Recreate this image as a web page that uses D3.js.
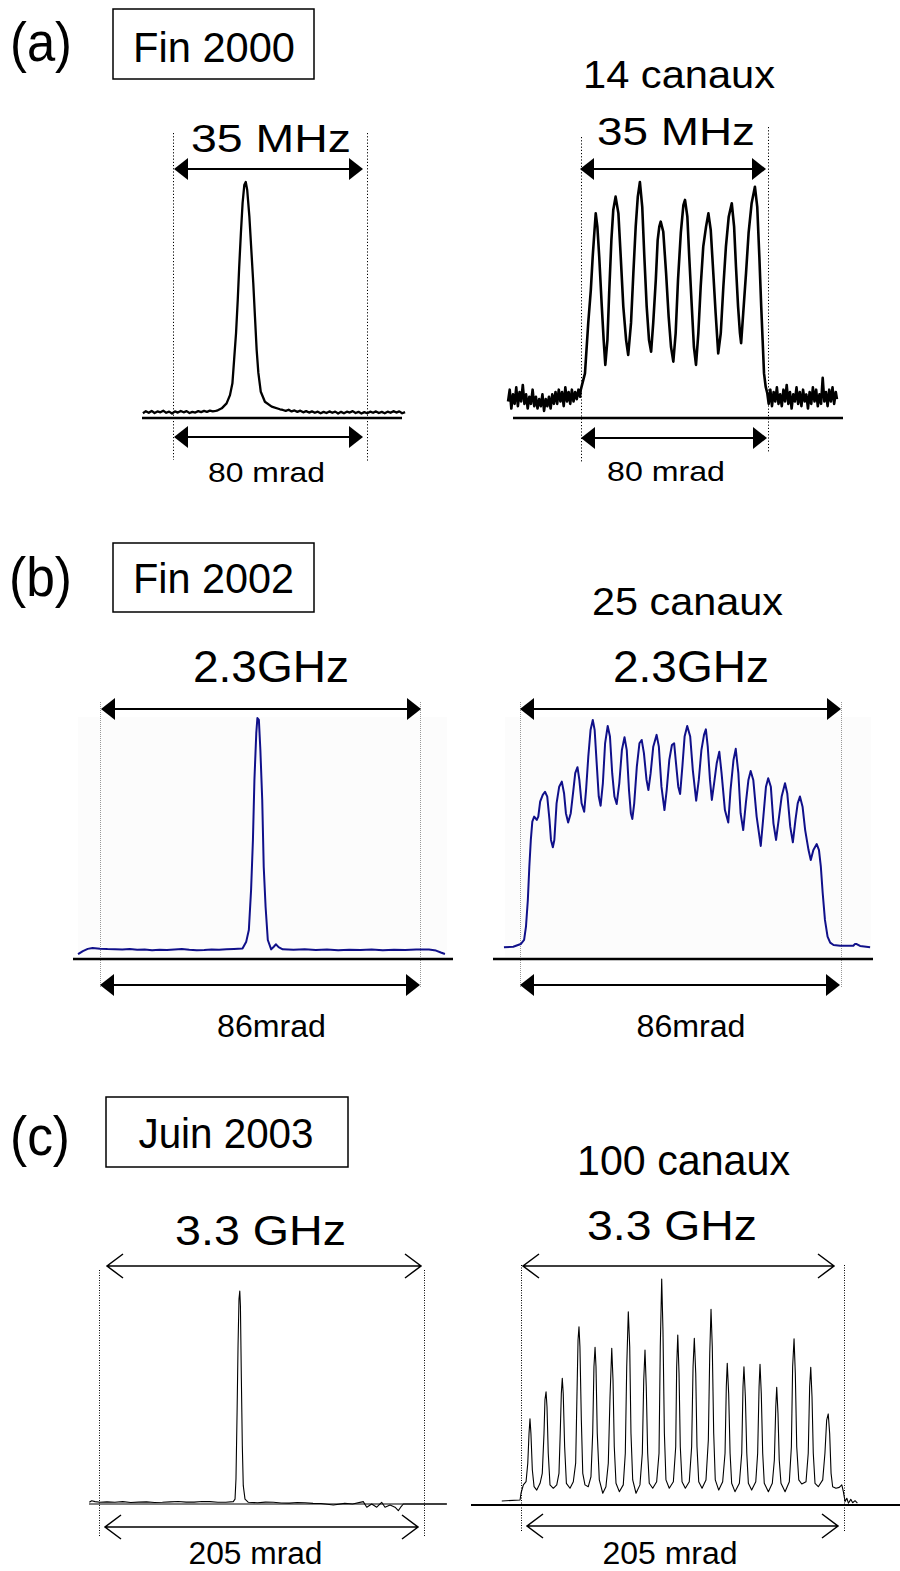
<!DOCTYPE html>
<html>
<head>
<meta charset="utf-8">
<script src="https://cdn.jsdelivr.net/npm/d3@7"></script>
<style>
  body { margin: 0; background: #fff; }
  svg { display: block; }
  text { font-family: "Liberation Sans", Arial, sans-serif; fill: #000; }
</style>
</head>
<body>
<script>
// Data: traces as [angle (mrad from left marker), intensity (% of max)]
const panelLetters = ["(a)", "(b)", "(c)"];
const panelDates = ["Fin 2000", "Fin 2002", "Juin 2003"];
const channelLabels = ["14 canaux", "25 canaux", "100 canaux"];
const bandLabels = ["35 MHz", "2.3GHz", "3.3 GHz"];
const angleLabels = ["80 mrad", "86mrad", "205 mrad"];
const angleSpans = [80, 86, 205];

const traceA1 = [[-12.4,2.0],[-11.2,2.9],[-10.0,2.2],[-8.8,3.0],[-7.6,2.1],[-6.4,2.8],[-5.2,2.4],[-4.0,3.1],[-2.8,2.2],[-1.6,2.7],[-0.4,1.9],[0.8,2.8],[2.0,2.3],[3.2,3.0],[4.4,2.4],[5.6,2.9],[6.8,2.1],[8.0,2.6],[9.2,2.3],[10.4,2.9],[11.6,2.5],[12.8,3.0],[14.0,2.6],[15.2,3.1],[16.4,2.8],[17.6,3.0],[18.1,3.1],[20.1,4.1],[22.1,6.2],[23.5,9.7],[24.5,14.7],[25.2,24.6],[26.0,36.0],[26.7,50.0],[27.3,64.1],[28.0,78.4],[28.7,91.1],[29.4,98.7],[30.0,100],[30.6,96.6],[31.5,85.3],[32.3,71.2],[33.1,57.2],[33.8,42.9],[34.5,28.8],[35.2,19.1],[36.2,11.1],[37.9,6.9],[40.7,4.8],[44.1,3.7],[45.3,3.4],[46.5,3.0],[47.7,3.5],[48.9,2.8],[50.1,3.2],[51.3,2.6],[52.5,3.1],[53.7,2.4],[54.9,2.9],[56.1,2.3],[57.3,2.8],[58.5,2.2],[59.7,2.7],[60.9,2.0],[62.1,2.6],[63.3,2.1],[64.5,2.8],[65.7,2.2],[66.9,2.7],[68.1,1.9],[69.3,2.6],[70.5,2.0],[71.7,2.7],[72.9,2.3],[74.1,2.9],[75.3,2.1],[76.5,2.6],[77.7,1.9],[78.9,2.5],[80.1,2.0],[81.3,2.7],[82.5,2.2],[83.7,2.8],[84.9,2.1],[86.1,2.6],[87.3,2.0],[88.5,2.7],[89.7,2.2],[90.9,2.9],[92.1,2.3],[93.3,2.8],[94.5,2.0],[95.7,2.5]];

const traceA2 = [[-31.2,7],[-30.5,12],[-29.8,4],[-29.1,10],[-28.4,6],[-27.7,13],[-27.0,5],[-26.3,11],[-25.6,7],[-24.9,14],[-24.2,6],[-23.5,10],[-22.8,4],[-22.1,9],[-21.4,6],[-20.7,12],[-20.0,5],[-19.3,9],[-18.6,4],[-17.9,8],[-17.2,5],[-16.5,10],[-15.8,3],[-15.1,8],[-14.4,5],[-13.7,9],[-13.0,4],[-12.3,10],[-11.6,6],[-10.9,11],[-10.2,6],[-9.5,12],[-8.8,7],[-8.1,11],[-7.4,5],[-6.7,13],[-6.0,7],[-5.3,11],[-4.6,6],[-3.9,12],[-3.2,7],[-2.5,11],[-1.8,8],[-1.1,12],[-0.4,9],
  [-0.1,11.9],[1.7,18.9],[3.1,40.3],[4.2,54.2],[5.0,68.3],[5.7,78.4],[6.3,86.7],[7.0,81.1],[7.8,68.3],[8.9,47.2],[9.7,33.0],[10.4,22.5],[11.3,33.0],[12.1,54.2],[13.0,75.4],[13.8,88.1],[14.8,93.8],[16.0,86.7],[17.0,68.3],[18.1,47.2],[19.3,33.0],[20.2,26.7],[21.4,40.3],[22.4,61.4],[23.4,81.1],[24.3,93.8],[25.2,100],[26.2,89.5],[27.1,68.3],[28.1,47.2],[29.1,33.0],[30.0,28.1],[30.9,40.3],[32.0,58.5],[32.8,75.4],[33.5,81.1],[34.1,83.2],[35.2,78.9],[36.4,61.4],[37.5,42.9],[38.5,30.2],[39.5,23.9],[40.5,36.0],[41.5,58.5],[42.7,78.4],[43.8,90.2],[44.5,92.4],[45.5,85.3],[46.3,68.3],[47.4,47.2],[48.3,30.2],[49.2,22.5],[50.2,36.0],[51.2,55.6],[52.3,72.6],[53.5,81.1],[54.5,86.7],[55.5,79.7],[56.6,61.4],[57.6,44.4],[58.7,27.4],[59.8,36.0],[60.9,55.6],[62.0,72.6],[63.2,85.3],[64.5,91.0],[65.5,81.1],[66.3,64.1],[67.2,47.2],[68.0,36.0],[68.5,31.7],[69.4,44.4],[70.6,61.4],[71.7,78.4],[73.0,91.0],[74.4,98.0],[75.4,89.5],[76.3,68.3],[77.1,47.2],[77.7,33.0],[78.3,18.9],[79.0,13.3],[79.7,10.5],
  [80.3,6],[81.0,12],[81.7,5],[82.4,11],[83.1,7],[83.8,13],[84.5,6],[85.2,10],[85.9,5],[86.6,12],[87.3,7],[88.0,14],[88.7,6],[89.4,11],[90.1,4],[90.8,10],[91.5,7],[92.2,13],[92.9,6],[93.6,11],[94.3,5],[95.0,12],[95.7,7],[96.4,10],[97.1,4],[97.8,11],[98.5,6],[99.2,13],[99.9,7],[100.6,12],[101.3,5],[102.0,10],[102.7,6],[103.4,17],[104.1,7],[104.8,11],[105.5,5],[106.2,12],[106.9,7],[107.6,13],[108.3,6],[109.0,11],[109.5,8]];

const traceB1 = [[-5.9,2.0],[-4.6,3.3],[-3.3,4.2],[-2.0,4.6],[0,4.3],[2,4.1],[4,4.0],[6,3.9],[8,4.1],[10,3.8],[12,3.9],[14,3.6],[16,3.8],[18,3.7],[20,3.9],[22,4.1],[24,3.8],[26,3.6],[28,3.7],[30,3.9],[32,3.8],[34,4.0],[36,4.2],[38.3,4.4],[39.3,7.2],[40.0,12.0],[40.6,28.6],[41.1,49.4],[41.5,74.3],[42.0,93.7],[42.3,100],[42.7,99.2],[43.1,86.7],[43.6,66.0],[44.0,38.3],[44.5,21.7],[45.1,7.9],[46.0,4.0],[46.7,5.1],[47.3,6.1],[48.0,4.9],[49.1,4.0],[52,3.8],[55,4.0],[58,3.7],[61,3.9],[64,3.6],[67,3.8],[70,3.7],[73,3.9],[76,3.6],[79,3.8],[82,3.7],[85,3.9],[88.4,3.9],[90.3,3.5],[91.6,2.7],[92.7,2.1]];

const traceB2 = [[-4.3,4.9],[-1.8,5.1],[0.2,6.2],[1.1,7.9],[1.6,13.4],[2.1,24.5],[2.5,38.3],[2.9,49.4],[3.3,57.0],[3.8,59.1],[4.5,57.7],[4.9,59.1],[5.4,65.3],[6.1,68.1],[6.7,69.4],[7.3,67.4],[7.9,57.7],[8.3,49.4],[8.8,46.4],[9.2,49.4],[9.8,64.6],[10.5,71.5],[11.2,73.6],[11.8,68.8],[12.3,60.5],[12.9,56.6],[13.6,60.5],[14.3,70.1],[14.8,77.1],[15.4,79.6],[15.9,74.3],[16.5,64.6],[17.2,61.1],[17.7,70.1],[18.3,84.0],[18.9,95.0],[19.5,99.2],[20.0,95.0],[20.6,79.8],[21.1,67.4],[21.6,63.6],[22.2,72.9],[22.8,89.5],[23.5,96.7],[24.1,92.3],[24.7,77.1],[25.3,67.4],[25.9,64.3],[26.6,72.9],[27.3,86.7],[28.0,92.0],[28.6,86.7],[29.2,70.1],[29.7,60.5],[30.1,58.1],[30.6,64.6],[31.3,79.8],[32.0,89.5],[32.6,90.9],[33.2,85.4],[33.9,74.3],[34.4,70.1],[35.0,77.1],[35.7,88.1],[36.6,93.0],[37.2,88.1],[37.9,71.5],[38.7,61.8],[39.3,70.1],[40.0,82.6],[40.7,88.8],[41.3,89.5],[41.8,81.2],[42.4,71.5],[42.9,68.5],[43.5,79.8],[44.1,92.3],[44.8,96.7],[45.6,92.3],[46.3,78.4],[47.2,65.7],[47.9,74.3],[48.6,86.7],[49.3,93.0],[49.8,95.3],[50.3,88.1],[50.9,74.3],[51.4,66.0],[52.0,72.9],[52.7,81.2],[53.4,86.0],[54.0,77.1],[54.9,61.8],[55.8,56.6],[56.4,70.1],[57.2,82.6],[57.8,87.2],[58.5,77.1],[59.1,60.5],[59.8,53.5],[60.5,64.6],[61.2,74.3],[61.8,78.0],[62.5,74.3],[63.4,59.1],[64.5,46.9],[65.2,59.1],[65.9,71.5],[66.5,75.0],[67.2,71.5],[67.9,56.3],[68.6,49.4],[69.3,57.7],[70.1,67.4],[71.0,72.9],[71.6,68.8],[72.4,54.9],[73.1,48.4],[73.8,57.7],[74.4,64.6],[75.0,67.4],[75.7,63.2],[76.4,53.5],[77.3,45.2],[77.9,41.1],[78.6,45.2],[79.5,47.7],[80.1,45.2],[80.6,38.3],[81.1,27.3],[81.7,16.2],[82.4,9.3],[83.1,6.8],[84.0,5.8],[85.8,5.5],[87.6,5.5],[89.3,5.5],[89.7,6.2],[90.2,6.2],[91.1,5.4],[93.8,4.9]];

const traceC1 = [[-6.1,0.8],[-4.6,1.5],[-2.5,1.1],[0.6,0.8],[5,1.0],[10,0.8],[15,1.1],[20,0.7],[25,0.9],[30,1.0],[35,0.7],[40,0.8],[45,1.0],[50,1.2],[55,0.9],[60,0.9],[65,1.2],[70,1.1],[75,0.8],[80,0.8],[84.7,1.1],[85.8,2.3],[86.4,11.7],[87.1,43.1],[87.7,74.3],[88.3,96.2],[88.8,100],[89.2,93.1],[89.8,58.7],[90.4,27.4],[91.0,8.6],[92.1,2.3],[94.2,0.8],[100,0.6],[105,0.9],[110,0.8],[115,0.5],[120,0.4],[125,0.7],[130,0.6],[135,0.3],[140,0.2],[147.8,-0.5],[155,0.3],[160,0.0],[166.7,1.1],[168.9,-1.5],[172.0,0.0],[175.2,-1.5],[178.3,0.8],[180.4,-1.5],[183.6,-0.5],[186.7,-1.5],[188.8,-3.1],[190.3,-1.5],[192.0,0],[219.3,0]];

const traceC2 = [[-12.2,1.8],[-0.6,2.2],[0,5.2],[1.5,8.9],[3.2,10.3],[4.3,18.5],[5.1,31.7],[5.7,38.1],[6.3,31.7],[7.2,15.5],[8.3,8.1],[10.0,6.6],[12.1,9.6],[13.5,14.0],[14.6,31.7],[15.2,46.5],[15.9,50.1],[16.5,43.5],[17.3,22.9],[18.4,8.9],[20.5,7.4],[22.7,8.9],[24.1,14.0],[24.9,31.7],[25.6,49.4],[26.2,56.1],[26.8,49.4],[27.7,25.8],[28.8,9.6],[31.1,7.4],[33.2,10.3],[34.7,18.5],[35.5,47.9],[36.2,73.0],[36.8,78.9],[37.4,70.0],[38.3,37.6],[39.2,14.0],[40.6,8.9],[42.7,8.1],[44.4,12.5],[45.5,31.7],[46.3,61.2],[47.0,69.8],[47.6,61.2],[48.4,31.7],[49.7,11.1],[51.9,5.2],[53.9,8.1],[55.4,18.5],[56.5,47.9],[57.6,69.3],[58.4,55.3],[59.2,25.8],[60.3,9.6],[62.4,5.9],[64.9,8.9],[66.2,22.9],[67.1,61.2],[68.1,85.5],[69.0,70.0],[69.8,31.7],[70.9,11.1],[73.0,5.2],[75.5,8.9],[77.0,22.9],[77.9,55.3],[78.7,68.6],[79.5,52.3],[80.4,22.9],[81.4,9.6],[83.6,7.4],[86.1,10.3],[87.6,22.9],[88.4,70.0],[89.3,100],[90.1,77.4],[91.0,31.7],[92.0,11.1],[94.1,7.4],[96.7,10.3],[98.2,25.8],[98.8,61.2],[99.5,75.2],[100.3,58.3],[101.1,25.8],[102.2,10.3],[104.3,7.4],[106.8,10.3],[108.3,25.8],[109.2,61.2],[110.0,73.8],[110.9,58.3],[111.7,25.8],[112.8,10.3],[114.9,7.4],[117.4,11.1],[118.9,28.8],[119.8,67.1],[120.6,86.6],[121.4,70.0],[122.3,31.7],[123.3,11.1],[125.5,6.6],[128.0,10.3],[129.5,22.9],[130.3,52.3],[130.9,62.7],[131.8,49.4],[132.7,22.9],[133.7,9.6],[135.8,5.9],[138.6,9.6],[140.1,22.9],[140.9,52.3],[141.5,61.2],[142.4,47.9],[143.3,22.9],[144.3,9.6],[146.4,6.6],[149.0,10.3],[150.2,22.9],[151.1,52.3],[151.7,62.3],[152.5,49.4],[153.4,22.9],[154.4,9.6],[157.0,5.9],[159.5,9.6],[160.8,19.9],[161.7,43.5],[162.3,52.1],[163.1,40.6],[163.9,19.9],[165.0,9.6],[167.6,5.9],[170.3,10.3],[171.6,25.8],[172.4,61.2],[173.3,73.5],[174.1,58.3],[175.0,25.8],[176.3,11.1],[178.2,9.3],[180.9,10.3],[182.3,22.9],[183.2,52.3],[183.9,60.9],[184.7,47.9],[185.5,22.9],[186.6,9.6],[188.7,8.1],[191.5,11.1],[192.9,22.9],[194.0,37.6],[195.0,40.3],[195.9,31.7],[196.8,14.0],[197.8,8.1],[199.9,7.4],[202.0,7.8],[203.6,8.9],[204.6,5.9],[205.7,1.5],[206.8,3.0],[207.8,0.8],[209.3,2.5],[210.5,1.0],[212.0,1.9],[213.5,0.8]];

// Layout
const W = 900, H = 1571;
const fontAt = (size) => size + "px";

const svg = d3.select("body").append("svg")
    .attr("width", W)
    .attr("height", H);

// Panel header: letter + boxed date
const headers = [
    {letter: {x: 41, y: 61, w: 62}, box: {x: 113, y: 9, w: 201, h: 70}, date: {x: 214, y: 62, w: 162}},
    {letter: {x: 40.5, y: 596, w: 63}, box: {x: 113, y: 543, w: 201, h: 69}, date: {x: 213.5, y: 593, w: 161}},
    {letter: {x: 40, y: 1155, w: 60}, box: {x: 106, y: 1097, w: 242, h: 70}, date: {x: 226, y: 1148, w: 175}}
];

// One entry per spectrum
const plots = [
    {panel: 0, trace: traceA1, xL: 173, xR: 367, yAxis: 418, yTop: 182, axis: [142, 402], axisW: 2.5,
     dots: [[133, 460], [133, 461]], dotColor: "#000", dash: "1.2,2",
     arrTop: 169, arrBot: 437, insTop: [1, 4], insBot: [1, 4], head: "solid",
     color: "#000", lw: 2.3,
     band: {x: 271, y: 152, size: 38, w: 160}, angle: {x: 266.5, y: 482, size: 28, w: 117}},
    {panel: 0, trace: traceA2, xL: 581, xR: 768, yAxis: 418, yTop: 182, axis: [513, 843], axisW: 2.5,
     dots: [[137, 463], [127, 453]], dotColor: "#000", dash: "1.2,2",
     arrTop: 169, arrBot: 438, insTop: [-1, 2], insBot: [0, 1], head: "solid",
     color: "#000", lw: 2.6,
     chan: {x: 679, y: 88, size: 38, w: 192},
     band: {x: 676, y: 145, size: 38, w: 158}, angle: {x: 666, y: 481, size: 28, w: 118}},
    {panel: 1, trace: traceB1, xL: 100, xR: 420, yAxis: 959, yTop: 718, axis: [73, 453], axisW: 2.5,
     bg: [78, 717, 447, 957],
     dots: [[702, 988], [702, 988]], dotColor: "#999", dash: "1,1",
     arrTop: 709, arrBot: 985, insTop: [1, -1], insBot: [0, 0], head: "solid",
     color: "#10108a", lw: 2,
     band: {x: 271, y: 682, size: 44, w: 156}, angle: {x: 271.5, y: 1037, size: 31, w: 109}},
    {panel: 1, trace: traceB2, xL: 520, xR: 841, yAxis: 959, yTop: 718, axis: [493, 873], axisW: 2.5,
     bg: [505, 717, 871, 957],
     dots: [[702, 988], [702, 988]], dotColor: "#999", dash: "1,1",
     arrTop: 709, arrBot: 985, insTop: [0, 0], insBot: [0, 1], head: "solid",
     color: "#10108a", lw: 2,
     chan: {x: 687.5, y: 615, size: 38, w: 191},
     band: {x: 691, y: 682, size: 44, w: 156}, angle: {x: 691, y: 1037, size: 31, w: 109}},
    {panel: 2, trace: traceC1, xL: 99, xR: 424, yAxis: 1504, yTop: 1291, axis: [89, 447], axisW: 1.2,
     dots: [[1270, 1537], [1270, 1537]], dotColor: "#000", dash: "1,1.5",
     arrTop: 1266, arrBot: 1527, insTop: [8, 3], insBot: [6, 6], head: "open",
     color: "#000", lw: 1.1,
     band: {x: 260.5, y: 1245, size: 43, w: 171}, angle: {x: 255.5, y: 1564, size: 31, w: 134}},
    {panel: 2, trace: traceC2, xL: 521, xR: 844, yAxis: 1505, yTop: 1279, axis: [471, 900], axisW: 2,
     dots: [[1265, 1531], [1265, 1531]], dotColor: "#000", dash: "1,1.5",
     arrTop: 1266, arrBot: 1526, insTop: [2, 10], insBot: [6, 6], head: "open",
     color: "#000", lw: 1.1,
     chan: {x: 683.5, y: 1175, size: 42, w: 213},
     band: {x: 672, y: 1240, size: 43, w: 170}, angle: {x: 670, y: 1564, size: 31, w: 135}}
];

function label(txt, p, anchor) {
    svg.append("text")
        .attr("x", p.x)
        .attr("y", p.y)
        .attr("text-anchor", anchor || "middle")
        .attr("font-size", fontAt(p.size))
        .attr("textLength", p.w)
        .attr("lengthAdjust", "spacingAndGlyphs")
        .text(txt);
}

// Double-headed arrow between two x positions
function arrow(x1, x2, y, kind) {
    const g = svg.append("g");
    if (kind === "solid") {
        const len = 14, hw = 11;
        g.append("line")
            .attr("x1", x1 + len - 2).attr("x2", x2 - len + 2)
            .attr("y1", y).attr("y2", y)
            .attr("stroke", "#000").attr("stroke-width", 2.2);
        g.append("path")
            .attr("d", `M${x1},${y}L${x1 + len},${y - hw}L${x1 + len},${y + hw}Z`)
            .attr("fill", "#000");
        g.append("path")
            .attr("d", `M${x2},${y}L${x2 - len},${y - hw}L${x2 - len},${y + hw}Z`)
            .attr("fill", "#000");
    } else {
        const len = 16, hw = 12;
        g.append("path")
            .attr("d", `M${x1},${y}H${x2}`
                + `M${x1 + len},${y - hw}L${x1},${y}L${x1 + len},${y + hw}`
                + `M${x2 - len},${y - hw}L${x2},${y}L${x2 - len},${y + hw}`)
            .attr("fill", "none")
            .attr("stroke", "#000")
            .attr("stroke-width", 1.5);
    }
}

// Headers
headers.forEach((h, k) => {
    label(panelLetters[k], {x: h.letter.x, y: h.letter.y, size: 56, w: h.letter.w});
    svg.append("rect")
        .attr("x", h.box.x).attr("y", h.box.y)
        .attr("width", h.box.w).attr("height", h.box.h)
        .attr("fill", "none")
        .attr("stroke", "#000")
        .attr("stroke-width", 1.5);
    label(panelDates[k], {x: h.date.x, y: h.date.y, size: 42, w: h.date.w});
});

// Spectra
plots.forEach(p => {
    const span = angleSpans[p.panel];
    const x = d3.scaleLinear().domain([0, span]).range([p.xL, p.xR]);
    const y = d3.scaleLinear().domain([0, 100]).range([p.yAxis, p.yTop]);

    if (p.bg) {
        svg.append("rect")
            .attr("x", p.bg[0]).attr("y", p.bg[1])
            .attr("width", p.bg[2] - p.bg[0]).attr("height", p.bg[3] - p.bg[1])
            .attr("fill", "#fcfcfc");
    }

    // dotted markers at both ends of the span (half-pixel offset keeps them crisp)
    [0, span].forEach((v, j) => {
        const xv = Math.round(x(v)) + 0.5;
        svg.append("line")
            .attr("x1", xv).attr("x2", xv)
            .attr("y1", p.dots[j][0]).attr("y2", p.dots[j][1])
            .attr("stroke", p.dotColor)
            .attr("stroke-width", 1)
            .attr("stroke-dasharray", p.dash);
    });

    // baseline
    svg.append("line")
        .attr("x1", p.axis[0]).attr("x2", p.axis[1])
        .attr("y1", p.yAxis).attr("y2", p.yAxis)
        .attr("stroke", "#000")
        .attr("stroke-width", p.axisW);

    // trace
    const line = d3.line()
        .x(d => x(d[0]))
        .y(d => y(d[1]));
    svg.append("path")
        .datum(p.trace)
        .attr("d", line)
        .attr("fill", "none")
        .attr("stroke", p.color)
        .attr("stroke-width", p.lw)
        .attr("stroke-linejoin", "round");

    arrow(x(0) + p.insTop[0], x(span) - p.insTop[1], p.arrTop, p.head);
    arrow(x(0) + p.insBot[0], x(span) - p.insBot[1], p.arrBot, p.head);

    if (p.chan) label(channelLabels[p.panel], p.chan);
    label(bandLabels[p.panel], p.band);
    label(angleLabels[p.panel], p.angle);
});
</script>
</body>
</html>
